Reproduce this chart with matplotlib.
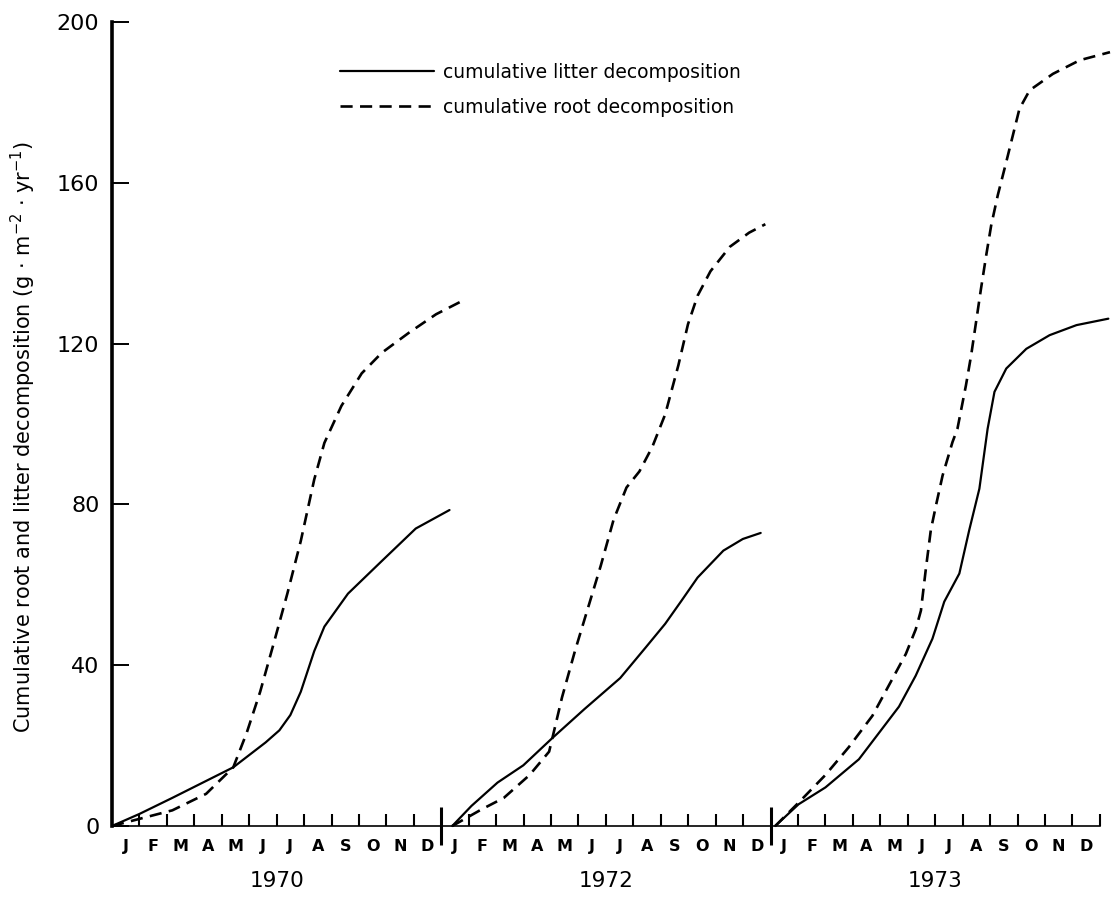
import matplotlib
matplotlib.use("Agg")
import matplotlib.pyplot as plt

# ---------------- data (months counted from Jan 1970 on a joined axis) -------------
month_labels = ["J", "F", "M", "A", "M", "J", "J", "A", "S", "O", "N", "D"]
year_labels = ["1970", "1972", "1973"]
y_ticks = [0, 40, 80, 120, 160, 200]

litter_1970_m = [0, 1.0, 2.20, 4.42, 5.6, 6.1, 6.5, 6.88, 7.37, 7.74, 8.60, 9.83, 11.07, 12.30]
litter_1970_v = [0, 3.0, 7.0, 14.6, 20.8, 23.8, 27.6, 33.4, 43.5, 49.6, 57.8, 65.9, 74.0, 78.6]

root_1970_m = [0, 2.20, 3.43, 4.42, 4.91, 5.40, 5.90, 6.39, 6.88, 7.37, 7.74, 8.36,
               9.10, 9.83, 10.82, 11.81, 12.67]
root_1970_v = [0, 3.9, 8.0, 14.6, 23.2, 33.4, 45.6, 57.8, 70.9, 86.2, 95.3, 104.5,
               112.6, 117.7, 122.7, 127.3, 130.3]

litter_1972_m = [12.40, 13.10, 14.05, 14.99, 16.05, 17.22, 18.52, 19.46, 20.16, 20.75,
                 21.34, 22.28, 22.99, 23.64]
litter_1972_v = [0, 5.0, 10.8, 15.1, 21.9, 29.1, 36.8, 44.5, 50.3, 56.0, 61.8, 68.5,
                 71.4, 72.9]

root_1972_m = [12.40, 13.46, 14.28, 15.22, 15.93, 16.05, 16.40, 16.87, 17.34, 17.81,
               18.28, 18.75, 19.22, 19.69, 20.16, 20.64, 20.99, 21.34, 21.81, 22.52,
               23.22, 23.81]
root_1972_v = [0, 4.1, 7.0, 12.7, 18.5, 21.9, 32.0, 43.5, 54.1, 64.7, 76.2, 84.2, 88.2,
               94.3, 102.4, 114.6, 124.8, 131.9, 138.0, 144.1, 147.6, 149.7]

litter_1973_m = [24.17, 25.02, 26.00, 27.22, 28.68, 29.29, 29.90, 30.33, 30.88, 31.24,
                 31.61, 31.91, 32.16, 32.59, 33.32, 34.17, 35.15, 36.31]
litter_1973_v = [0, 5.4, 9.6, 16.6, 29.7, 37.4, 46.6, 55.8, 62.8, 73.6, 83.9, 98.8,
                 108.0, 113.8, 118.7, 122.1, 124.6, 126.2]

root_1973_m = [24.17, 25.02, 26.00, 26.85, 27.71, 28.44, 28.93, 29.29, 29.48, 29.66,
               29.84, 30.03, 30.27, 30.63, 30.81, 31.12, 31.31, 31.49, 31.67, 31.86,
               32.04, 32.28, 32.59, 32.83, 33.07, 33.44, 34.29, 35.27, 36.37]
root_1973_v = [0, 5.8, 12.7, 19.6, 27.4, 36.6, 42.8, 48.9, 53.6, 64.0, 73.6, 79.8,
               87.2, 95.5, 98.8, 109.6, 117.1, 125.4, 133.7, 142.0, 149.4, 156.9,
               165.2, 171.8, 178.4, 183.0, 187.1, 190.5, 192.5]

litter_series = [(litter_1970_m, litter_1970_v), (litter_1972_m, litter_1972_v),
                 (litter_1973_m, litter_1973_v)]
root_series = [(root_1970_m, root_1970_v), (root_1972_m, root_1972_v),
               (root_1973_m, root_1973_v)]

# ---------------- figure -------------
W, H = 1112, 913
fig = plt.figure(figsize=(W / 100, H / 100), dpi=100)
px_per_month = 27.44
ax = fig.add_axes([112 / W, 87 / H, 36.6 * px_per_month / W, 804 / H])
ax.set_xlim(0, 36.6)
ax.set_ylim(0, 200)

solid_kw = dict(color="black", lw=1.6, solid_joinstyle="round", solid_capstyle="round")
dash_kw = dict(color="black", lw=1.9, dashes=(4.6, 2.8))

handles = []
for k, (m, v) in enumerate(litter_series):
    ln, = ax.plot(m, v, clip_on=False, **solid_kw)
    if k == 0:
        handles.append(ln)
for k, (m, v) in enumerate(root_series):
    ln, = ax.plot(m, v, clip_on=False, **dash_kw)
    if k == 0:
        handles.append(ln)

# spines
for s in ("top", "right"):
    ax.spines[s].set_visible(False)
ax.spines["left"].set_linewidth(2.6)
ax.spines["bottom"].set_linewidth(1.2)
ax.spines["bottom"].set_bounds(0, 36)

# y ticks
ax.set_yticks(y_ticks)
ax.set_yticklabels([str(t) for t in y_ticks])
ax.tick_params(axis="y", direction="in", length=12, width=1.4, labelsize=16, pad=9)

# x ticks: month boundaries (minor, inward) and year separators (major, crossing)
ax.set_xticks([12, 24])
ax.set_xticks([i for i in range(1, 37) if i not in (12, 24)], minor=True)
ax.tick_params(axis="x", which="major", direction="inout", length=28, width=2.2,
               labelbottom=False)
ax.tick_params(axis="x", which="minor", direction="in", length=9, width=1.5,
               labelbottom=False)

for k, yr in enumerate(year_labels):
    for i, lab in enumerate(month_labels):
        ax.text(12 * k + i + 0.5, -5.2, lab, ha="center", va="center", fontsize=11.5,
                fontweight="bold", clip_on=False)
    ax.text(12 * k + 6, -13.8, yr, ha="center", va="center", fontsize=15.5,
            clip_on=False)

fig.text(23 / W, 1 - 437 / H,
         r"Cumulative root and litter decomposition (g $\cdot$ m$^{-2}$ $\cdot$ yr$^{-1}$)",
         rotation=90, ha="center", va="center", fontsize=15)

ax.legend(handles=handles,
          labels=["cumulative litter decomposition", "cumulative root decomposition"],
          loc="center left", bbox_to_anchor=(340 / W, 1 - 90 / H),
          bbox_transform=fig.transFigure, frameon=False, handlelength=5.0,
          handletextpad=0.5, labelspacing=0.85, fontsize=13.5, borderpad=0,
          borderaxespad=0)

fig.savefig("out.png", dpi=100)
